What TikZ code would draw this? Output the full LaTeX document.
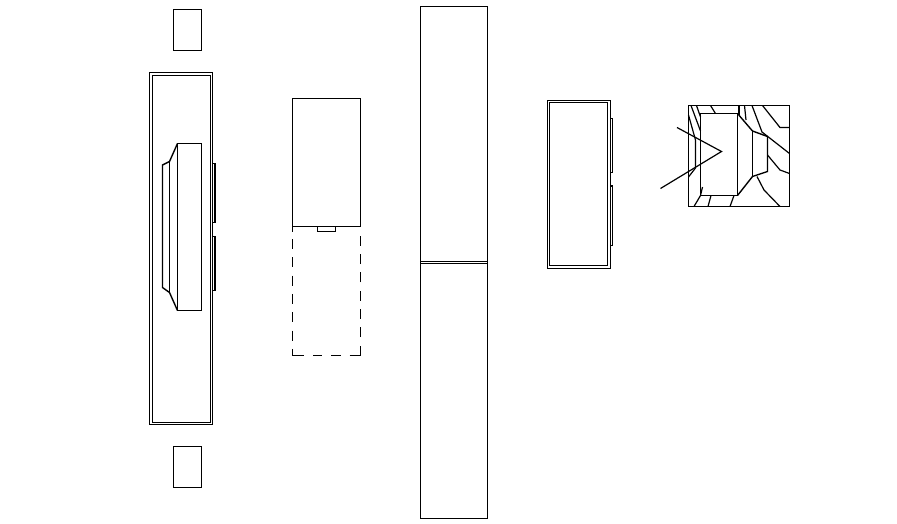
\documentclass[tikz,border=0pt]{standalone}
\tikzset{
  part/.style={line width=1.4pt, line join=miter},
  thinpart/.style={line width=1.2pt},
  gapline/.style={line width=1.4pt, dash pattern=on 10pt off 8.3pt},
}
\begin{document}
\begin{tikzpicture}[x=1pt, y=-1pt]
    \useasboundingbox (0, 0) rectangle (897, 523) ;
    % left column
    \draw[part] (173.5, 9.5) rectangle (201.5, 50.5) ;
    \draw[part] (173.5, 446.5) rectangle (201.5, 487.5) ;
    \draw[part] (149.5, 72.5) rectangle (212.5, 424.5) ;
    \draw[thinpart] (152.5, 75.5) rectangle (210.5, 422.5) ;
    \draw[part] (177.5, 143.5) rectangle (201.5, 310.5) ;
    \draw[part] (177.5, 143.5) -- (169.5, 161.5) -- (162.5, 165) -- (162.5, 287.5) -- (169.5, 292.5) -- (177.5, 310.5) ;
    \draw[part] (169.5, 161.5) -- (169.5, 292.5) ;
    \draw[thinpart] (212.5, 163.5) -- (215, 163.5) -- (215, 222.5) -- (212.5, 222.5) ;
    \draw[thinpart] (212.5, 236.5) -- (215, 236.5) -- (215, 290.5) -- (212.5, 290.5) ;
    % second column
    \draw[part] (292.5, 98.5) rectangle (360.5, 226.5) ;
    \draw[thinpart] (317.5, 226.5) rectangle (335.5, 231.5) ;
    \draw[part] (292.5, 226.5) -- (292.5, 232) ;
    \draw[gapline] (292.5, 239) -- (292.5, 355.5) ;
    \draw[part, dash pattern=on 11.8pt off 8.7pt on 9.3pt off 9pt on 9.7pt off 8.6pt on 11pt] (292.5, 355.5) -- (360.5, 355.5) ;
    \draw[gapline] (360.5, 355.5) -- (360.5, 235.5) ;
    % tall pair
    \draw[part] (420.5, 6.5) rectangle (487.5, 518.5) ;
    \draw[thinpart] (420.5, 261.5) -- (487.5, 261.5) ;
    \draw[thinpart] (420.5, 263.5) -- (487.5, 263.5) ;
    % fourth column
    \draw[part] (547.5, 100.5) rectangle (610.5, 268.5) ;
    \draw[thinpart] (549.5, 102.5) rectangle (607.5, 265.5) ;
    \draw[thinpart] (610.5, 118.5) -- (612.5, 118.5) -- (612.5, 172.5) -- (610.5, 172.5) ;
    \draw[thinpart] (610.5, 186) -- (612.5, 186) -- (612.5, 245.5) -- (610.5, 245.5) ;
    % detail square
    \draw[part] (688.5, 105.5) rectangle (789.5, 206.5) ;
    \draw[part] (700.5, 113.5) rectangle (737.5, 195.5) ;
    \draw[part] (737.5, 113.5) -- (752.5, 131) -- (767.5, 136.5) -- (767.5, 171.5) -- (752.5, 176.5) -- (737.5, 195.5) ;
    \draw[part] (752.5, 131) -- (752.5, 176.5) ;
    \draw[thinpart] (677, 127.5) -- (721.5, 151.5) -- (660.5, 188.5) ;
    % grain lines
    \draw[thinpart] (688.5, 115) -- (695.5, 140) -- (695.5, 168) -- (688.5, 177) ;
    \draw[thinpart] (691, 105.5) -- (700.5, 131) ;
    \draw[thinpart] (696.5, 105.5) -- (700.5, 117) ;
    \draw[thinpart] (710.5, 105.5) -- (715.5, 113.5) ;
    \draw[thinpart] (739, 105.5) -- (739, 115) ;
    \draw[thinpart] (744.5, 105.5) -- (746, 120) ;
    \draw[thinpart] (752, 105.5) -- (762, 132) -- (789.5, 153.5) ;
    \draw[thinpart] (762.5, 105.5) -- (780, 127.5) -- (789.5, 127.5) ;
    \draw[thinpart] (767.5, 155) -- (780, 170) -- (789.5, 173.5) ;
    \draw[thinpart] (757, 176.5) -- (764, 190) -- (780, 206.5) ;
    \draw[thinpart] (730, 206.5) -- (734, 195.5) ;
    \draw[thinpart] (708, 206.5) -- (711, 195.5) ;
    \draw[thinpart] (694, 206.5) -- (700.5, 195.5) -- (702.5, 187) ;
\end{tikzpicture}
\end{document}
